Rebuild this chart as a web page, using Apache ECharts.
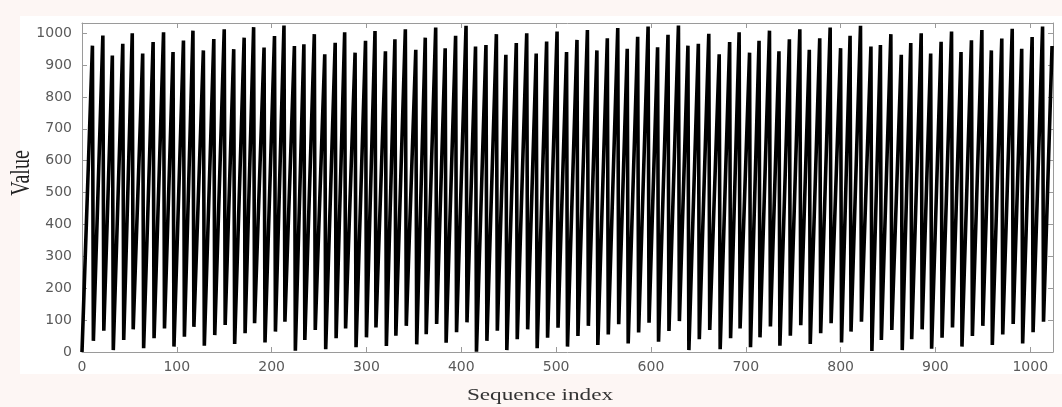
<!DOCTYPE html>
<html>
<head>
<meta charset="utf-8">
<script src="https://cdn.jsdelivr.net/npm/echarts@6/dist/echarts.min.js"></script>
<style>
  html, body { margin: 0; padding: 0; background: #fdf6f4; }
  #chart { width: 1062px; height: 407px; }
</style>
</head>
<body>
<div id="chart"></div>
<script>
// Turning points of the sequence
const startPoint = [0, 0];
const endPoint = [1023, 960];
const peakIdx = [11,22,32,43,53,64,75,86,96,107,117,128,139,150,160,171,181,192,203,213,
  224,234,245,256,267,277,288,299,309,320,330,341,352,362,373,383,394,405,415,426,
  437,447,458,469,479,490,501,511,522,533,543,554,565,575,586,597,607,618,629,639,
  650,661,672,683,693,704,714,725,735,746,757,767,778,789,800,810,821,832,842,853,
  864,874,885,895,906,917,927,938,949,959,970,981,991,1002,1013];
const peakVal = [961,993,930,967,1000,936,972,1003,941,977,1008,946,982,1012,950,986,1019,955,991,1024,
  960,965,997,934,970,1003,939,976,1007,943,981,1012,948,986,1018,953,992,1023,958,963,
  997,932,969,1000,936,974,1005,941,979,1010,946,984,1016,951,989,1021,956,995,1024,961,
  967,998,934,972,1003,939,976,1008,943,981,1012,948,984,1018,953,992,1023,958,963,997,
  932,969,1000,936,973,1005,941,978,1010,946,983,1014,951,988,1021];
const valleyIdx = [12,23,33,44,54,65,76,87,97,108,118,129,140,151,161,172,182,193,204,214,
  225,235,246,257,268,278,289,300,310,321,331,342,353,363,374,384,395,406,416,427,
  438,448,459,470,480,491,502,512,523,534,544,555,566,576,587,598,608,619,630,640,
  651,662,673,684,694,705,715,726,736,747,758,768,779,790,801,811,822,833,843,854,
  865,875,886,896,907,918,928,939,950,960,971,982,992,1003,1014];
const valleyVal = [35,67,6,38,71,12,43,74,17,48,79,20,53,85,25,59,90,30,64,95,
  4,38,69,9,43,74,15,46,77,19,51,82,24,56,88,29,62,93,1,35,
  67,6,40,71,12,45,76,17,50,82,22,55,87,27,61,92,32,66,97,6,
  40,69,9,43,74,15,46,80,20,51,84,25,59,90,30,64,95,3,38,69,
  6,40,71,10,45,77,17,50,82,22,55,88,27,62,95];
const xTicks = [0,100,200,300,400,500,600,700,800,900,1000];
const yTicks = [0,100,200,300,400,500,600,700,800,900,1000];

const points = [startPoint];
for (let i = 0; i < peakIdx.length; i++) {
  points.push([peakIdx[i], peakVal[i]]);
  points.push([valleyIdx[i], valleyVal[i]]);
}
points.push(endPoint);

const axisColor = '#9a9a9a';
const labelStyle = { color: '#5a5a5a', fontFamily: '"DejaVu Sans", sans-serif', fontSize: 14 };

const chart = echarts.init(document.getElementById('chart'), null, { renderer: 'canvas' });
chart.setOption({
  animation: false,
  backgroundColor: '#fdf6f4',
  grid: { left: 82, right: 9, top: 23, bottom: 55, show: true, backgroundColor: '#ffffff', borderWidth: 0 },
  graphic: [
    { type: 'rect', z: -10, shape: { x: 20, y: 16, width: 1042, height: 358 }, style: { fill: '#ffffff' } },
    { type: 'text', x: 22, y: 173, rotation: Math.PI / 2, scaleY: 1.4,
      style: { text: 'Value', font: '20px "Liberation Serif", serif', fill: '#222', textAlign: 'center', textVerticalAlign: 'middle' } },
    { type: 'text', x: 540, y: 396, scaleX: 1.45,
      style: { text: 'Sequence index', font: '16px "Liberation Serif", serif', fill: '#333', textAlign: 'center', textVerticalAlign: 'middle' } }
  ],
  xAxis: [
    { type: 'value', min: xTicks[0], max: 1024, interval: 100, position: 'bottom',
      axisLine: { show: true, lineStyle: { color: axisColor } },
      axisTick: { show: true, inside: true, length: 5, lineStyle: { color: axisColor } },
      axisLabel: Object.assign({ margin: 8, showMaxLabel: false,
        formatter: v => (xTicks.indexOf(v) >= 0 ? String(v) : '') }, labelStyle),
      splitLine: { show: false } },
    { type: 'value', min: xTicks[0], max: 1024, interval: 100, position: 'top',
      axisLine: { show: true, onZero: false, lineStyle: { color: axisColor } },
      axisTick: { show: true, inside: true, length: 5, lineStyle: { color: axisColor } },
      axisLabel: { show: false }, splitLine: { show: false } }
  ],
  yAxis: [
    { type: 'value', min: yTicks[0], max: 1032, interval: 100, position: 'left',
      axisLine: { show: true, lineStyle: { color: axisColor } },
      axisTick: { show: true, inside: true, length: 5, lineStyle: { color: axisColor } },
      axisLabel: Object.assign({ margin: 10, showMaxLabel: false,
        formatter: v => (yTicks.indexOf(v) >= 0 ? String(v) : '') }, labelStyle),
      splitLine: { show: false } },
    { type: 'value', min: yTicks[0], max: 1032, interval: 100, position: 'right',
      axisLine: { show: true, onZero: false, lineStyle: { color: axisColor } },
      axisTick: { show: true, inside: true, length: 5, lineStyle: { color: axisColor } },
      axisLabel: { show: false }, splitLine: { show: false } }
  ],
  series: [{
    type: 'line',
    xAxisIndex: 0, yAxisIndex: 0,
    data: points,
    showSymbol: false,
    symbol: 'none',
    lineStyle: { color: '#000000', width: 3.6, join: 'bevel', cap: 'butt' },
    z: 3
  }]
});
</script>
</body>
</html>
